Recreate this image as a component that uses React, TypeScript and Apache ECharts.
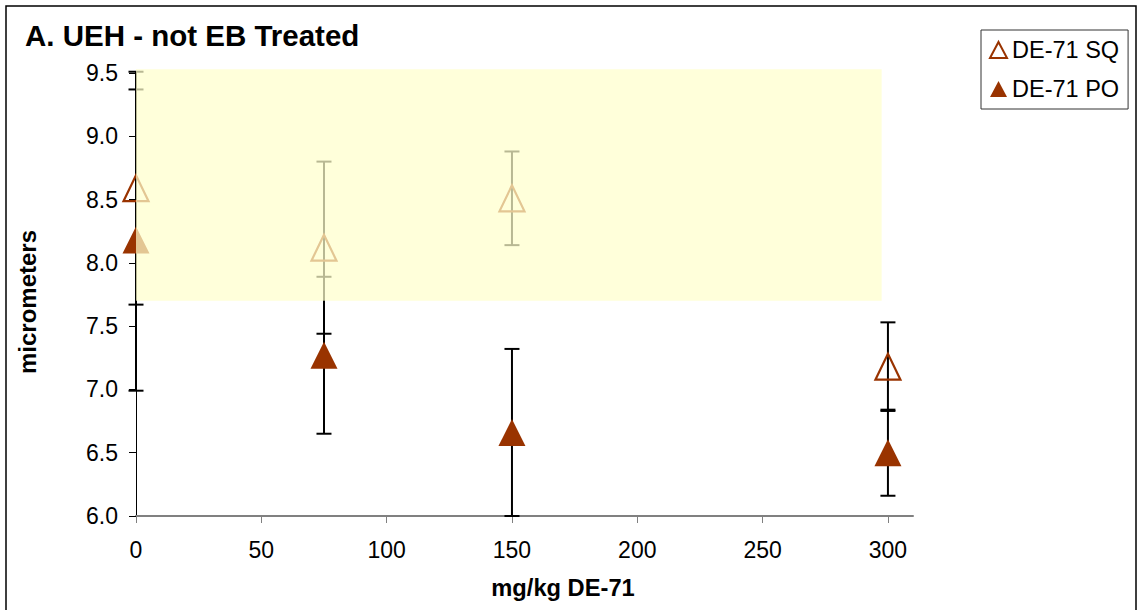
import React, { useEffect, useRef } from "react";
import * as echarts from "echarts";

const xValues = [0, 75, 150, 300];
const sqMeans = [8.59, 8.12, 8.51, 7.18];
const sqErr = [0.92, 0.68, 0.37, 0.35];
const poMeans = [8.18, 7.27, 6.66, 6.5];
const poErr = [1.19, 0.62, 0.66, 0.34];
const xTicks = [0, 50, 100, 150, 200, 250, 300];
const yTicks = [6.0, 6.5, 7.0, 7.5, 8.0, 8.5, 9.0, 9.5];
// highlight box: [xStart, yLow, xEnd, yHigh]
const highlightBox = [0, 7.7, 297.5, 9.53];

const FONT = "'Liberation Sans', Arial, sans-serif";
const BROWN = "#993300";

export default function App() {
  const ref = useRef<HTMLDivElement>(null);
  useEffect(() => {
    if (!ref.current) return;
    const chart = echarts.init(ref.current, null, { renderer: "svg" });

    const errData = (means: number[], errs: number[]) =>
      xValues.map((x, i) => [x, means[i] - errs[i], means[i] + errs[i]]);

    const errRender = (params: any, api: any) => {
      const x = api.value(0);
      const lo = api.value(1);
      const hi = api.value(2);
      const pHi = api.coord([x, hi]);
      const pLo = api.coord([x, lo]);
      const w = 7.5;
      const st = { stroke: "#000", lineWidth: 2 };
      return {
        type: "group",
        children: [
          { type: "line", shape: { x1: pHi[0], y1: pHi[1], x2: pLo[0], y2: pLo[1] }, style: st },
          { type: "line", shape: { x1: pHi[0] - w, y1: pHi[1], x2: pHi[0] + w, y2: pHi[1] }, style: st },
          { type: "line", shape: { x1: pLo[0] - w, y1: pLo[1], x2: pLo[0] + w, y2: pLo[1] }, style: st },
        ],
      };
    };

    const option: any = {
      animation: false,
      textStyle: { fontFamily: FONT },
      grid: { left: 136, right: 225, top: 73, bottom: 94, containLabel: false },
      legend: {
        orient: "vertical",
        left: 981,
        top: 30,
        padding: [8, 9, 8, 8],
        itemGap: 15,
        itemWidth: 17,
        itemHeight: 16,
        borderColor: "#333",
        borderWidth: 1,
        textStyle: { fontSize: 23.5, color: "#000", fontFamily: FONT },
        data: ["DE-71 SQ", "DE-71 PO"],
      },
      xAxis: {
        type: "value",
        min: 0,
        max: 310,
        interval: 50,
        splitLine: { show: false },
        axisLine: { lineStyle: { color: "#808080", width: 2 } },
        axisTick: { length: 7, lineStyle: { color: "#808080", width: 1 }, customValues: xTicks },
        axisLabel: { fontSize: 23, color: "#000", margin: 22, fontFamily: FONT, customValues: xTicks },
      },
      yAxis: {
        type: "value",
        min: 6,
        max: 9.5,
        interval: 0.5,
        splitLine: { show: false },
        axisLine: { show: true, lineStyle: { color: "#000", width: 1 } },
        axisTick: { show: true, length: 7, lineStyle: { color: "#000" }, customValues: yTicks },
        axisLabel: {
          fontSize: 23,
          color: "#000",
          margin: 18,
          fontFamily: FONT,
          customValues: yTicks,
          formatter: (v: number) => v.toFixed(1),
        },
      },
      graphic: [
        {
          type: "rect",
          shape: { x: 6, y: 6, width: 1130, height: 640 },
          style: { fill: "none", stroke: "#000", lineWidth: 1.5 },
          silent: true,
        },
        {
          type: "text",
          x: 25,
          y: 35,
          style: {
            text: "A. UEH - not EB Treated",
            font: `bold 29.5px ${FONT}`,
            fill: "#000",
            textAlign: "left",
            textVerticalAlign: "middle",
          },
        },
        {
          type: "text",
          x: 27,
          y: 302,
          rotation: Math.PI / 2,
          style: {
            text: "micrometers",
            font: `bold 24px ${FONT}`,
            fill: "#000",
            textAlign: "center",
            textVerticalAlign: "middle",
          },
        },
        {
          type: "text",
          x: 563,
          y: 588,
          style: {
            text: "mg/kg DE-71",
            font: `bold 23.7px ${FONT}`,
            fill: "#000",
            textAlign: "center",
            textVerticalAlign: "middle",
          },
        },
      ],
      series: [
        {
          name: "SQ err",
          type: "custom",
          clip: false,
          z: 1,
          renderItem: errRender,
          encode: { x: 0, y: [1, 2] },
          data: errData(sqMeans, sqErr),
        },
        {
          name: "PO err",
          type: "custom",
          clip: false,
          z: 1,
          renderItem: errRender,
          encode: { x: 0, y: [1, 2] },
          data: errData(poMeans, poErr),
        },
        {
          name: "DE-71 SQ",
          type: "scatter",
          symbol: "triangle",
          symbolSize: [25, 26],
          clip: false,
          z: 3,
          itemStyle: { color: "rgba(255,255,255,0)", borderColor: BROWN, borderWidth: 2.2, opacity: 1 },
          data: xValues.map((x, i) => [x, sqMeans[i]]),
        },
        {
          name: "DE-71 PO",
          type: "scatter",
          symbol: "triangle",
          symbolSize: [27, 27],
          clip: false,
          z: 3,
          itemStyle: { color: BROWN, opacity: 1 },
          data: xValues.map((x, i) => [x, poMeans[i]]),
        },
        {
          name: "highlight",
          type: "custom",
          clip: false,
          z: 10,
          silent: true,
          renderItem: (params: any, api: any) => {
            const p0 = api.coord([api.value(0), api.value(3)]);
            const p1 = api.coord([api.value(2), api.value(1)]);
            return {
              type: "rect",
              shape: { x: p0[0], y: p0[1], width: p1[0] - p0[0], height: p1[1] - p0[1] },
              style: { fill: "rgba(255,255,204,0.72)" },
            };
          },
          encode: { x: [0, 2], y: [1, 3] },
          data: [highlightBox],
        },
      ],
    };
    chart.setOption(option);
    return () => chart.dispose();
  }, []);

  return (
    <div
      ref={ref}
      style={{ position: "absolute", left: 0, top: 0, width: 1138, height: 610, background: "#fff" }}
    />
  );
}
